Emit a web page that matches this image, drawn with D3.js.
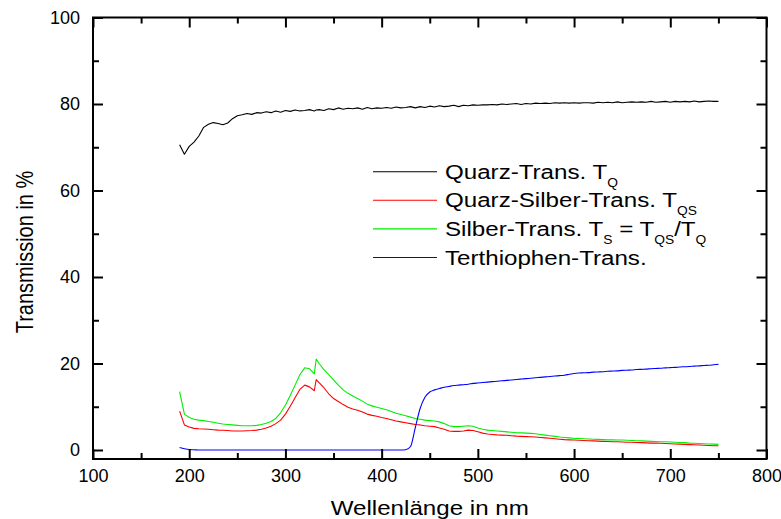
<!DOCTYPE html>
<html>
<head>
<meta charset="utf-8">
<script src="https://cdn.jsdelivr.net/npm/d3@7"></script>
<style>
  html, body { margin: 0; padding: 0; background: #fff; }
  svg { display: block; font-family: "Liberation Sans", Arial, Helvetica, sans-serif; }
</style>
</head>
<body>
<svg id="chart" width="781" height="519"></svg>
<script>
// Wavelength grid (nm)
const wavelength = [
  190, 195, 200, 205, 210, 215, 220, 225, 230, 235,
  240, 245, 250, 255, 260, 265, 270, 275, 280, 285,
  290, 295, 300, 305, 310, 315, 320, 325, 330, 332,
  335, 340, 345, 350, 355, 360, 365, 370, 375, 380,
  385, 390, 395, 400, 405, 410, 415, 420, 425, 430,
  435, 440, 445, 450, 455, 460, 465, 470, 475, 480,
  485, 490, 495, 500, 505, 510, 515, 520, 525, 530,
  535, 540, 545, 550, 555, 560, 565, 570, 575, 580,
  585, 590, 595, 600, 605, 610, 615, 620, 625, 630,
  635, 640, 645, 650, 655, 660, 665, 670, 675, 680,
  685, 690, 695, 700, 705, 710, 715, 720, 725, 730,
  735, 740, 745, 750
];

// Quartz substrate transmission T_Q (%)
const quarzTrans = [
  70.6, 68.4, 70.2, 71.2, 72.6, 74.6, 75.3, 75.7, 75.5, 75.2,
  75.6, 76.6, 77.3, 77.5, 77.8, 77.6, 78.0, 77.9, 78.2, 78.0,
  78.4, 78.1, 78.5, 78.3, 78.6, 78.4, 78.5, 78.7, 78.4, 78.6,
  78.7, 78.5, 78.9, 78.7, 79.1, 78.8, 79.0, 78.9, 79.1, 78.8,
  79.2, 78.9, 79.1, 79.0, 79.2, 79.0, 79.3, 79.1, 79.2, 79.4,
  79.1, 79.4, 79.2, 79.5, 79.3, 79.6, 79.4, 79.5, 79.7, 79.4,
  79.7, 79.6, 79.8, 79.7, 79.8, 79.8, 79.9, 79.8, 80.0, 79.9,
  80.0, 80.1, 79.9, 80.1, 80.0, 80.2, 80.1, 80.2, 80.1, 80.3,
  80.2, 80.3, 80.2, 80.3, 80.2, 80.3, 80.3, 80.2, 80.4, 80.3,
  80.4, 80.3, 80.5, 80.3, 80.4, 80.5, 80.4, 80.5, 80.4, 80.6,
  80.4, 80.5, 80.6, 80.4, 80.6, 80.5, 80.6, 80.5, 80.7, 80.5,
  80.6, 80.7, 80.6, 80.6
];

// Quartz + silver transmission T_QS (%)
const quarzSilberTrans = [
  9.0, 5.8, 5.3, 5.0, 4.9, 4.85, 4.8, 4.7, 4.6, 4.55,
  4.5, 4.4, 4.4, 4.4, 4.45, 4.5, 4.6, 4.8, 5.1, 5.5,
  6.1, 6.9, 8.3, 10.1, 12.1, 14.0, 15.0, 14.6, 13.7, 16.3,
  15.6, 14.4, 13.0, 11.9, 11.2, 10.5, 9.9, 9.5, 9.2, 8.8,
  8.3, 8.0, 7.8, 7.5, 7.3, 7.0, 6.7, 6.5, 6.3, 6.1,
  5.9, 5.8, 5.6, 5.5, 5.4, 5.1, 4.8, 4.4, 4.3, 4.3,
  4.4, 4.6, 4.5, 4.2, 3.9, 3.7, 3.6, 3.5, 3.45, 3.4,
  3.3, 3.2, 3.15, 3.1, 3.05, 3.0, 2.9, 2.8, 2.7, 2.6,
  2.5, 2.4, 2.35, 2.3, 2.25, 2.2, 2.15, 2.1, 2.05, 2.0,
  1.95, 1.9, 1.9, 1.85, 1.8, 1.8, 1.75, 1.7, 1.65, 1.6,
  1.6, 1.55, 1.5, 1.45, 1.4, 1.35, 1.3, 1.25, 1.2, 1.15,
  1.1, 1.05, 1.0, 1.0
];

// Silver film transmission T_S = T_QS / T_Q (%)
const silberTrans = [
  13.5, 8.3, 7.5, 7.1, 6.9, 6.8, 6.6, 6.4, 6.2, 6.0,
  5.9, 5.8, 5.7, 5.6, 5.6, 5.6, 5.7, 5.9, 6.2, 6.6,
  7.3, 8.6, 10.4, 12.6, 15.0, 17.4, 19.0, 18.8, 17.6, 21.0,
  20.0, 18.6, 17.4, 16.2, 15.0, 13.9, 13.1, 12.5, 11.9, 11.3,
  10.6, 10.2, 9.9, 9.6, 9.3, 8.9, 8.5, 8.2, 7.9, 7.6,
  7.3, 7.1, 6.9, 6.8, 6.7, 6.5, 6.1, 5.6, 5.4, 5.4,
  5.5, 5.6, 5.5, 5.1, 4.8, 4.6, 4.5, 4.4, 4.3, 4.2,
  4.1, 4.0, 3.95, 3.9, 3.85, 3.75, 3.6, 3.45, 3.3, 3.15,
  3.0, 2.9, 2.8, 2.7, 2.65, 2.6, 2.55, 2.5, 2.45, 2.4,
  2.35, 2.35, 2.3, 2.3, 2.25, 2.2, 2.15, 2.1, 2.05, 2.0,
  1.95, 1.9, 1.9, 1.85, 1.8, 1.75, 1.7, 1.6, 1.55, 1.5,
  1.45, 1.4, 1.35, 1.3
];

// Terthiophene film transmission (%)
const terthiophenTrans = [
  0.6, 0.3, 0.1, 0.05, 0, 0, 0, 0, 0, 0,
  0, 0, 0, 0, 0, 0, 0, 0, 0, 0,
  0, 0, 0, 0, 0, 0, 0, 0, 0, 0,
  0, 0, 0, 0, 0, 0, 0, 0, 0, 0,
  0, 0, 0, 0, 0, 0, 0, 0, 0.05, 0.8,
  5.2, 9.6, 12.2, 13.4, 13.9, 14.2, 14.5, 14.7, 14.9, 15.0,
  15.1, 15.2, 15.4, 15.5, 15.6, 15.7, 15.8, 15.9, 16.0, 16.1,
  16.2, 16.3, 16.4, 16.5, 16.6, 16.7, 16.8, 16.9, 17.0, 17.1,
  17.2, 17.3, 17.5, 17.7, 17.8, 17.85, 17.9, 18.0, 18.05, 18.1,
  18.2, 18.25, 18.3, 18.4, 18.45, 18.5, 18.6, 18.65, 18.7, 18.8,
  18.85, 18.9, 19.0, 19.05, 19.1, 19.2, 19.25, 19.3, 19.4, 19.45,
  19.55, 19.6, 19.7, 19.8
];

// Axis ticks
const xMajorTicks = [100, 200, 300, 400, 500, 600, 700, 800];
const xMinorTicks = [150, 250, 350, 450, 550, 650, 750];
const yMajorTicks = [0, 20, 40, 60, 80, 100];
const yMinorTicks = [10, 30, 50, 70, 90];

// Legend entries: text pieces, "sub" marks a subscript
const seriesColors = ["#000000", "#ff0000", "#00ee00", "#0000ff"];
const legendLabels = [
  [["Quarz-Trans. T"], ["Q", "sub"]],
  [["Quarz-Silber-Trans. T"], ["QS", "sub"]],
  [["Silber-Trans. T"], ["S", "sub"], [" = T"], ["QS", "sub"], ["/T"], ["Q", "sub"]],
  [["Terthiophen-Trans."]]
];
const seriesValues = [quarzTrans, quarzSilberTrans, silberTrans, terthiophenTrans];

const svg = d3.select("#chart");
const plotLeft = 93, plotRight = 766.5, plotTop = 17.5, plotBottom = 459;

const x = d3.scaleLinear().domain([100, 800]).range([plotLeft, plotRight]);
const y = d3.scaleLinear().domain([-2.08, 100]).range([plotBottom, plotTop]);

// Curves
const plot = svg.append("g");
seriesValues.forEach((vals, i) => {
  const pts = wavelength.map((w, k) => [w, vals[k]]);
  const line = d3.line()
    .x(d => x(d[0]))
    .y(d => y(d[1]))
    .curve(i === 3 ? d3.curveMonotoneX : d3.curveLinear);
  plot.append("path")
    .attr("d", line(pts))
    .attr("fill", "none")
    .attr("stroke", seriesColors[i])
    .attr("stroke-width", 1.1)
    .attr("stroke-linejoin", "round");
});

// Axes: ticks point inwards on all four sides
const tickFont = g => g.selectAll("text")
  .attr("font-size", 18).attr("fill", "#000")
  .attr("font-family", '"Liberation Sans", Arial, sans-serif');
const styleAxis = g => {
  g.select(".domain").remove();
  g.selectAll("line").attr("stroke", "#000").attr("stroke-width", 2);
};

svg.append("g").attr("transform", `translate(0,${plotBottom})`)
  .call(d3.axisBottom(x).tickValues(xMajorTicks).tickSize(-10).tickPadding(10).tickFormat(d3.format("d")))
  .call(styleAxis).call(tickFont);
svg.append("g").attr("transform", `translate(0,${plotBottom})`)
  .call(d3.axisBottom(x).tickValues(xMinorTicks).tickSize(-6).tickFormat(""))
  .call(styleAxis);
svg.append("g").attr("transform", `translate(0,${plotTop})`)
  .call(d3.axisTop(x).tickValues(xMajorTicks).tickSize(-10).tickFormat(""))
  .call(styleAxis);
svg.append("g").attr("transform", `translate(0,${plotTop})`)
  .call(d3.axisTop(x).tickValues(xMinorTicks).tickSize(-6).tickFormat(""))
  .call(styleAxis);

svg.append("g").attr("transform", `translate(${plotLeft},0)`)
  .call(d3.axisLeft(y).tickValues(yMajorTicks).tickSize(-10).tickPadding(13).tickFormat(d3.format("d")))
  .call(styleAxis).call(tickFont);
svg.append("g").attr("transform", `translate(${plotLeft},0)`)
  .call(d3.axisLeft(y).tickValues(yMinorTicks).tickSize(-6).tickFormat(""))
  .call(styleAxis);
svg.append("g").attr("transform", `translate(${plotRight},0)`)
  .call(d3.axisRight(y).tickValues(yMajorTicks).tickSize(-10).tickFormat(""))
  .call(styleAxis);
svg.append("g").attr("transform", `translate(${plotRight},0)`)
  .call(d3.axisRight(y).tickValues(yMinorTicks).tickSize(-6).tickFormat(""))
  .call(styleAxis);

// Frame
svg.append("rect")
  .attr("x", plotLeft).attr("y", plotTop)
  .attr("width", plotRight - plotLeft).attr("height", plotBottom - plotTop)
  .attr("fill", "none").attr("stroke", "#000").attr("stroke-width", 2);

// Axis titles
svg.append("text")
  .attr("transform", `translate(${(plotLeft + plotRight) / 2},515) scale(1.15,1)`)
  .attr("text-anchor", "middle")
  .attr("font-size", 21)
  .text("Wellenlänge in nm");

svg.append("text")
  .attr("transform", `translate(33,252) rotate(-90) scale(1,1.2)`)
  .attr("text-anchor", "middle")
  .attr("font-size", 20)
  .text("Transmission in %");

// Legend
const legendX0 = 373, legendX1 = 437, legendTextX = 445, legendY0 = 171.7, legendStep = 28.6;
legendLabels.forEach((parts, i) => {
  const ly = legendY0 + i * legendStep;
  svg.append("line")
    .attr("x1", legendX0).attr("x2", legendX1)
    .attr("y1", ly).attr("y2", ly)
    .attr("stroke", seriesColors[i]).attr("stroke-width", 1.1);
  const t = svg.append("text")
    .attr("transform", `translate(${legendTextX},${ly + 7}) scale(1.15,1)`)
    .attr("font-size", 21);
  let lowered = false;
  parts.forEach(([str, kind]) => {
    const ts = t.append("tspan").text(str);
    if (kind === "sub" && !lowered) { ts.attr("dy", 8).attr("font-size", 12); lowered = true; }
    else if (kind === "sub") { ts.attr("font-size", 12); }
    else if (lowered) { ts.attr("dy", -8); lowered = false; }
  });
});
</script>
</body>
</html>
